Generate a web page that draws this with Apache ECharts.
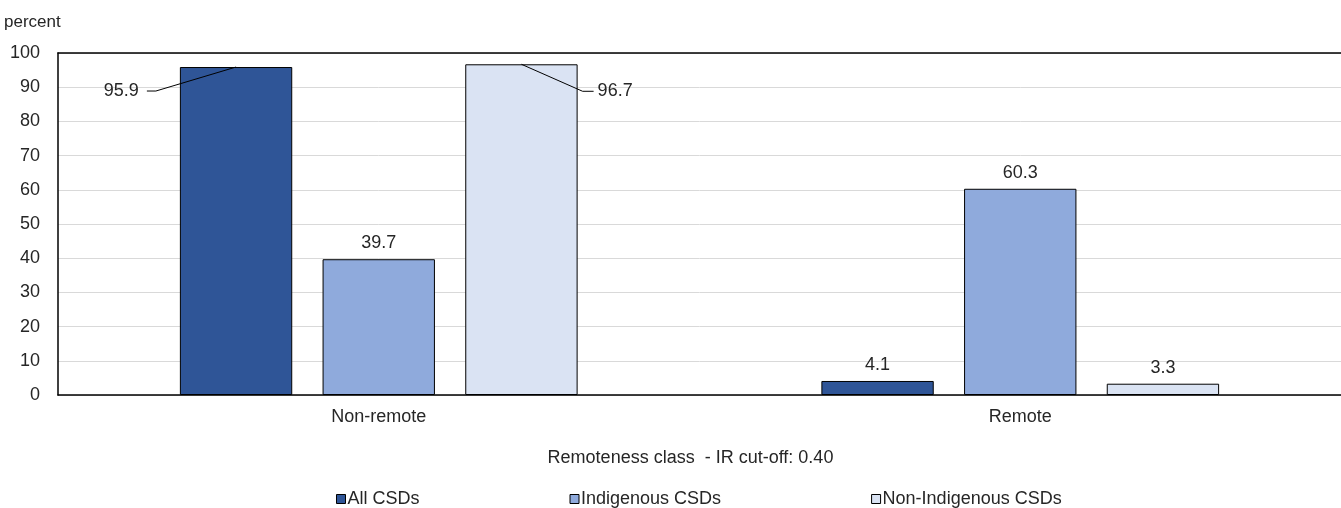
<!DOCTYPE html>
<html>
<head>
<meta charset="utf-8">
<script src="https://cdn.jsdelivr.net/npm/echarts@6/dist/echarts.min.js"></script>
<style>
html,body{margin:0;padding:0;background:#fff;}
#chart{width:1341px;height:508px;}
</style>
</head>
<body>
<div id="chart"></div>
<script>
var categories = ['Non-remote', 'Remote'];
var seriesNames = ['All CSDs', 'Indigenous CSDs', 'Non-Indigenous CSDs'];
var allCSDs = [95.9, 4.1];
var indigenousCSDs = [39.7, 60.3];
var nonIndigenousCSDs = [96.7, 3.3];
var yTicks = [0, 10, 20, 30, 40, 50, 60, 70, 80, 90, 100];
var yAxisTitle = 'percent';
var xAxisTitle = 'Remoteness class  - IR cut-off: 0.40';

var FONT = '"Liberation Sans", Arial, sans-serif';
var TXT = '#262626';
var colors = ['#2F5597', '#8FAADC', '#DAE3F3'];

var chart = echarts.init(document.getElementById('chart'), null, {renderer: 'canvas'});

// leader-labelled items: [seriesIndex, dataIndex, side]
var leaders = [[0, 0, 'left'], [2, 0, 'right']];

function isLeader(s, i) {
  for (var k = 0; k < leaders.length; k++) if (leaders[k][0] === s && leaders[k][1] === i) return true;
  return false;
}

function makeSeries(idx, values) {
  return {
    name: seriesNames[idx],
    type: 'bar',
    barGap: '27%',
    barCategoryGap: '38%',
    itemStyle: {color: colors[idx], borderColor: '#000', borderWidth: 1},
    label: {show: true, position: 'top', distance: 7, color: TXT, fontFamily: FONT, fontSize: 18},
    data: values.map(function (v, i) {
      if (isLeader(idx, i)) return {value: v, label: {show: false}};
      return v;
    })
  };
}

var option = {
  animation: false,
  backgroundColor: '#fff',
  textStyle: {fontFamily: FONT, color: TXT},
  grid: {left: 58, right: 0, top: 53, bottom: 113, containLabel: false},
  legend: {
    data: seriesNames,
    left: 331, top: 485,
    icon: 'rect', itemWidth: 9, itemHeight: 9, itemGap: 150,
    itemStyle: {borderColor: '#000', borderWidth: 1},
    textStyle: {fontFamily: FONT, fontSize: 18, color: TXT, padding: [0, 0, 0, -3]}
  },
  xAxis: [{
    type: 'category',
    data: categories,
    axisLine: {show: true, lineStyle: {color: '#000', width: 1.5}},
    axisTick: {show: false},
    axisLabel: {color: TXT, fontFamily: FONT, fontSize: 18, margin: 13},
    name: xAxisTitle,
    nameLocation: 'middle',
    nameGap: 54,
    nameTextStyle: {color: TXT, fontFamily: FONT, fontSize: 18, padding: [0, 18, 0, 0]}
  }, {
    type: 'category',
    data: categories,
    position: 'top',
    axisLine: {show: true, lineStyle: {color: '#000', width: 1.5}},
    axisTick: {show: false},
    axisLabel: {show: false}
  }],
  yAxis: {
    type: 'value',
    min: yTicks[0], max: yTicks[yTicks.length - 1], interval: 10,
    name: yAxisTitle,
    nameLocation: 'end',
    nameGap: 22,
    nameTextStyle: {color: TXT, fontFamily: FONT, fontSize: 17, align: 'left', padding: [0, 0, 0, -54]},
    axisLine: {show: true, lineStyle: {color: '#000', width: 1.5}},
    axisTick: {show: false},
    axisLabel: {color: TXT, fontFamily: FONT, fontSize: 18, margin: 18},
    splitLine: {show: true, lineStyle: {color: '#D9D9D9', width: 1}}
  },
  series: [
    makeSeries(0, allCSDs),
    makeSeries(1, indigenousCSDs),
    makeSeries(2, nonIndigenousCSDs)
  ]
};
chart.setOption(option);

// Leader-line labels, positioned from the library's bar layout
var model = chart.getModel();
var graphics = [];
leaders.forEach(function (l) {
  var data = model.getSeriesByIndex(l[0]).getData();
  var r = data.getItemLayout(l[1]);
  var top = Math.min(r.y, r.y + r.height);
  var cx = r.x + r.width / 2;
  var text = String(data.get(data.mapDimension('y'), l[1]));
  var pts, tx, ty, align;
  if (l[2] === 'left') {
    ty = top + 24;
    pts = [[r.x - 33, ty], [r.x - 24, ty], [cx, top]];
    tx = r.x - 41; align = 'right';
  } else {
    ty = top + 27;
    pts = [[r.x + r.width + 16, ty], [r.x + r.width + 5, ty], [cx, top]];
    tx = r.x + r.width + 20; align = 'left';
  }
  graphics.push({
    type: 'polyline', z: 10, silent: true,
    shape: {points: pts},
    style: {stroke: '#000', lineWidth: 1, fill: null}
  });
  graphics.push({
    type: 'text', z: 10, silent: true, x: tx, y: ty,
    style: {text: text, fill: TXT, font: '18px ' + FONT, textAlign: align, textVerticalAlign: 'middle'}
  });
});
chart.setOption({graphic: graphics});
</script>
</body>
</html>
